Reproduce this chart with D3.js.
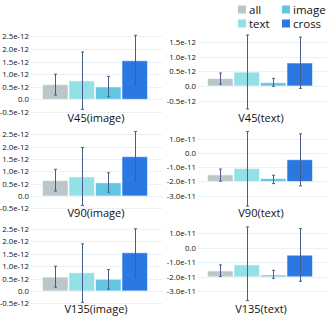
<!DOCTYPE html>
<html><head><meta charset="utf-8">
<script src="https://cdn.jsdelivr.net/npm/d3@7"></script>
<style>
html,body{margin:0;padding:0;background:#fff;}
svg{display:block;font-family:"Open Sans","Noto Sans",sans-serif;}
</style></head>
<body><svg id="c" width="331" height="317"></svg>
<script>
const series = ["all","text","image","cross"];
const colors = ["#b9c7ca","#93e0e6","#62c6e2","#2b78e3"];
const titles = ["V45(image)","V45(text)","V90(image)","V90(text)","V135(image)","V135(text)"];
// bar values per panel (all, text, image, cross)
const values = [
  [0.58e-12, 0.73e-12, 0.49e-12, 1.53e-12],
  [0.25e-12, 0.47e-12, 0.11e-12, 0.78e-12],
  [0.62e-12, 0.77e-12, 0.53e-12, 1.59e-12],
  [-1.54e-11, -1.09e-11, -1.80e-11, -0.47e-11],
  [0.56e-12, 0.73e-12, 0.47e-12, 1.54e-12],
  [-1.60e-11, -1.18e-11, -1.88e-11, -0.51e-11]
];
const errLow = [
  [0.17e-12, -0.40e-12, 0.10e-12, 0.58e-12],
  [0.06e-12, -0.78e-12, -0.01e-12, -0.08e-12],
  [0.20e-12, -0.39e-12, 0.15e-12, 0.61e-12],
  [-1.98e-11, -3.73e-11, -2.15e-11, -2.31e-11],
  [0.15e-12, -0.46e-12, 0.07e-12, 0.55e-12],
  [-1.97e-11, -3.64e-11, -2.10e-11, -2.31e-11]
];
const errHigh = [
  [1.00e-12, 1.88e-12, 0.91e-12, 2.54e-12],
  [0.44e-12, 1.73e-12, 0.26e-12, 1.66e-12],
  [1.08e-12, 1.96e-12, 0.94e-12, 2.61e-12],
  [-1.13e-11, 1.51e-11, -1.56e-11, 1.35e-11],
  [1.00e-12, 1.90e-12, 0.86e-12, 2.51e-12],
  [-1.18e-11, 1.44e-11, -1.55e-11, 1.32e-11]
];
const baselines = [0, 0, 0, -2e-11, 0, -2e-11];
const ticksImage = [-0.5e-12, 0, 0.5e-12, 1.0e-12, 1.5e-12, 2.0e-12, 2.5e-12];
const tickLabelsImage = ["-0.5e-12","0.0","0.5e-12","1.0e-12","1.5e-12","2.0e-12","2.5e-12"];
const ticksV45Text = [-0.5e-12, 0, 0.5e-12, 1.0e-12, 1.5e-12];
const tickLabelsV45Text = ["-0.5e-12","0.0","0.5e-12","1.0e-12","1.5e-12"];
const ticksText = [-3e-11, -2e-11, -1e-11, 0, 1e-11];
const tickLabelsText = ["-3.0e-11","-2.0e-11","-1.0e-11","0.0","1.0e-11"];
const panelTicks = [
  [ticksImage, tickLabelsImage],
  [ticksV45Text, tickLabelsV45Text],
  [ticksImage, tickLabelsImage],
  [ticksText, tickLabelsText],
  [ticksImage, tickLabelsImage],
  [ticksText, tickLabelsText]
];

// layout
const colX = [{bar0:42, bar1:148, g0:31, g1:162, lab:29, tx:96},
              {bar0:207, bar1:313, g0:198, g1:327, lab:196, tx:261}];
const yPix = [[111.9,36.3],[100.7,41.8],[208.3,134.2],[195.7,138.8],[303.3,229],[291.3,233.3]];
const titleY = [122,122,217,217,313,313];

const svg = d3.select("#c");

for (let p = 0; p < 6; p++) {
  const col = colX[p % 2];
  const [tv, tl] = panelTicks[p];
  const y = d3.scaleLinear().domain([tv[0], tv[tv.length-1]]).range(yPix[p]);
  const x = d3.scaleBand().domain(series).range([col.bar0, col.bar1]).padding(0);
  const g = svg.append("g");

  // gridlines
  g.selectAll("line.grid").data(tv).join("line")
    .attr("x1", col.g0).attr("x2", col.g1)
    .attr("y1", d => Math.round(y(d)) + 0.5).attr("y2", d => Math.round(y(d)) + 0.5)
    .attr("stroke", "#e8f1f5").attr("stroke-width", 1);

  // axis labels
  const ax = g.append("g").attr("transform", `translate(${col.lab},0)`)
    .call(d3.axisLeft(y).tickValues(tv).tickSize(0).tickPadding(0)
      .tickFormat((d, i) => tl[i]));
  ax.select(".domain").remove();
  ax.selectAll("text").attr("font-size", 7.8).attr("fill", "#111")
    .attr("font-family", "'Open Sans','Noto Sans',sans-serif");

  // bars
  const base = baselines[p];
  g.selectAll("rect.bar").data(values[p]).join("rect")
    .attr("x", (d, i) => x(series[i]) + 0.5)
    .attr("width", x.bandwidth() - 1)
    .attr("y", d => Math.min(y(d), y(base)))
    .attr("height", d => Math.abs(y(base) - y(d)))
    .attr("fill", (d, i) => colors[i])
    .attr("stroke", "rgba(255,255,255,0.55)").attr("stroke-width", 1);

  // error bars
  const cx = i => x(series[i]) + x.bandwidth() / 2;
  const ec = "#4b5b8e";
  for (let i = 0; i < 4; i++) {
    const lo = y(errLow[p][i]), hi = y(errHigh[p][i]);
    const c = Math.round(cx(i)) + 0.5;
    g.append("line").attr("x1", c).attr("x2", c).attr("y1", hi).attr("y2", lo)
      .attr("stroke", ec).attr("stroke-width", 1);
    [hi, lo].forEach(v => g.append("line").attr("x1", c - 1.5).attr("x2", c + 1.5)
      .attr("y1", v).attr("y2", v).attr("stroke", ec).attr("stroke-width", 1));
  }

  // title
  g.append("text").attr("x", col.tx).attr("y", titleY[p]).attr("text-anchor", "middle")
    .attr("font-size", 11).attr("fill", "#111").text(titles[p]);
}

// legend
const legX = [238, 282];
const legY = [5.5, 19.5];
const leg = svg.append("g");
series.forEach((s, i) => {
  const lx = legX[Math.floor(i / 2)], ly = legY[i % 2];
  leg.append("rect").attr("x", lx).attr("y", ly).attr("width", 8).attr("height", 8).attr("fill", colors[i]);
  leg.append("text").attr("x", lx + 11).attr("y", ly + 8).attr("font-size", 11.5)
    .attr("fill", "#111").text(s);
});
</script></body></html>
